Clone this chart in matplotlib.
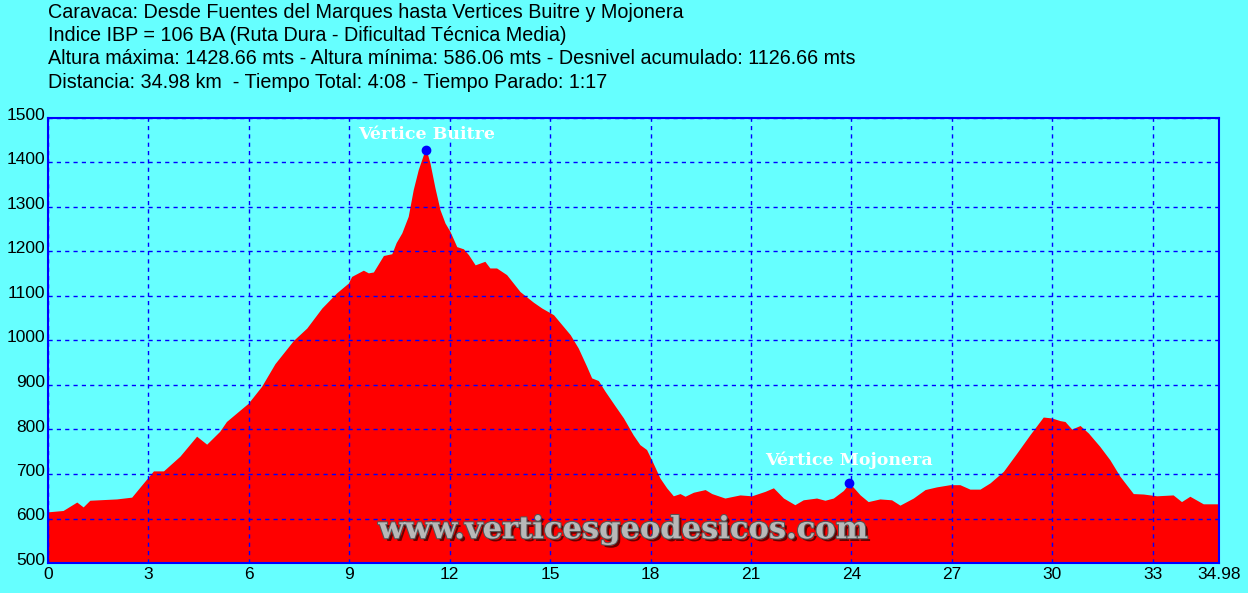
import matplotlib
matplotlib.use("Agg")
import matplotlib.pyplot as plt
import matplotlib.patheffects as pe
import matplotlib.transforms as mtrans

# perfil: distancia (km) y altura (m)
km = [0, 0.45, 0.86, 1.05, 1.25, 2.05, 2.5, 2.95, 3.15, 3.45, 3.94, 4.44, 4.74, 5.13, 5.33,
      5.98, 6.38, 6.78, 7.33, 7.73, 8.18, 8.62, 8.97, 9.07, 9.42, 9.57, 9.72, 10.02, 10.27,
      10.4, 10.57, 10.76, 10.91, 11.06, 11.21, 11.3, 11.41, 11.56, 11.71, 11.86, 12.01, 12.21,
      12.41, 12.56, 12.76, 13.05, 13.2, 13.4, 13.7, 14.1, 14.5, 14.75, 15.1, 15.6, 15.84,
      16.09, 16.24, 16.44, 16.64, 16.94, 17.19, 17.48, 17.68, 17.88, 18.03, 18.28, 18.48,
      18.68, 18.88, 19.03, 19.28, 19.63, 19.83, 20.22, 20.67, 21.02, 21.42, 21.67, 21.97,
      22.31, 22.56, 22.96, 23.21, 23.46, 23.76, 23.94, 24.26, 24.5, 24.85, 25.2, 25.45,
      25.85, 26.2, 26.54, 26.94, 27.24, 27.54, 27.84, 28.14, 28.54, 28.94, 29.33, 29.73,
      29.98, 30.23, 30.38, 30.58, 30.83, 31.08, 31.42, 31.72, 32.02, 32.42, 32.72, 33.12,
      33.61, 33.86, 34.11, 34.51, 34.81, 34.98]
altura = [615, 618, 637, 626, 641, 644, 648, 689, 707, 707, 740, 785, 767, 796, 818,
          859, 897, 948, 1000, 1028, 1073, 1107, 1129, 1144, 1158, 1152, 1154, 1191, 1195,
          1220, 1242, 1279, 1339, 1384, 1417, 1428.66, 1399, 1343, 1294, 1264, 1245, 1211,
          1206, 1193, 1170, 1178, 1163, 1163, 1148, 1110, 1086, 1073, 1058, 1013, 983,
          942, 916, 910, 886, 853, 826, 788, 766, 755, 732, 691, 669,
          651, 656, 650, 659, 665, 656, 646, 653, 651, 661, 669, 646,
          631, 642, 646, 641, 646, 663, 680, 653, 638, 644, 642, 630,
          646, 665, 671, 676, 676, 666, 666, 680, 706, 747, 788, 828,
          826, 820, 818, 801, 809, 792, 762, 732, 695, 656, 655, 651,
          653, 638, 650, 633, 633, 633]

# vertices
vertices = ["Vértice Buitre", "Vértice Mojonera"]
vert_km = [11.3, 23.94]
vert_alt = [1428.66, 680]
vert_offset = [5, 10]

xticks = [0, 3, 6, 9, 12, 15, 18, 21, 24, 27, 30, 33, 34.98]
xlabels = ["0", "3", "6", "9", "12", "15", "18", "21", "24", "27", "30", "33", "34.98"]
yticks = [500, 600, 700, 800, 900, 1000, 1100, 1200, 1300, 1400, 1500]

titulo = [
    "Caravaca: Desde Fuentes del Marques hasta Vertices Buitre y Mojonera",
    "Indice IBP = 106 BA (Ruta Dura - Dificultad Técnica Media)",
    "Altura máxima: 1428.66 mts - Altura mínima: 586.06 mts - Desnivel acumulado: 1126.66 mts",
    "Distancia: 34.98 km  - Tiempo Total: 4:08 - Tiempo Parado: 1:17",
]

fondo = "#66ffff"
azul = "#0000ff"

fig = plt.figure(figsize=(12.48, 5.93), dpi=100, facecolor=fondo)
ax = fig.add_axes([48 / 1248, 30 / 593, 1171 / 1248, 445 / 593], facecolor=fondo)

ax.fill_between(km, 500, altura, color="#ff0000", linewidth=0, zorder=2)
ax.set_xlim(0, 34.98)
ax.set_ylim(500, 1500)

ax.set_xticks(xticks)
ax.set_xticklabels(xlabels)
ax.set_yticks(yticks)
ax.tick_params(length=0, labelsize=12.5, labelcolor="black", pad=3)
ax.tick_params(axis="y", pad=2)
for lab in ax.get_xticklabels() + ax.get_yticklabels():
    lab.set_family("Liberation Sans")
# las etiquetas del eje y van un poco por encima de la linea
subir = mtrans.ScaledTranslation(0, 4 / 100, fig.dpi_scale_trans)
for lab in ax.get_yticklabels():
    lab.set_transform(lab.get_transform() + subir)

ax.grid(True, color=azul, linestyle=(0, (3, 3)), linewidth=1, zorder=3)
ax.set_axisbelow(False)
for s in ax.spines.values():
    s.set_color(azul)
    s.set_linewidth(1.5)
    s.set_zorder(4)

ax.plot(vert_km, vert_alt, "o", color=azul, markersize=6, zorder=5)
for nombre, x, y, off in zip(vertices, vert_km, vert_alt, vert_offset):
    ax.annotate(nombre, (x, y), xytext=(0, off), textcoords="offset points",
                ha="center", va="bottom", color="white", fontsize=12.5,
                fontweight="bold", family="DejaVu Serif", zorder=6)

ax.text(0.491, 0.04, "www.verticesgeodesicos.com", transform=ax.transAxes,
        ha="center", va="bottom", fontsize=22, fontweight="bold", family="DejaVu Serif",
        color="#b8b8b8", zorder=6,
        path_effects=[pe.withSimplePatchShadow(offset=(2, -2), shadow_rgbFace="#400000", alpha=0.8),
                      pe.withStroke(linewidth=1.5, foreground="#555555")])

for i, linea in enumerate(titulo):
    fig.text(48 / 1248, 1 - (12 + i * 23.4) / 593, linea, ha="left", va="center",
             fontsize=14.2, family="Liberation Sans", color="black")

fig.savefig("out.png", dpi=100, facecolor=fondo)
